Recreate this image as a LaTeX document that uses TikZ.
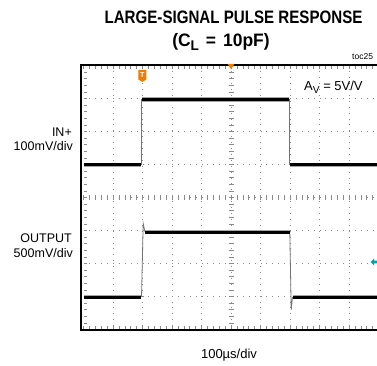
\documentclass[tikz,border=0pt]{standalone}
\usepackage{fontspec}
\setmainfont{Liberation Sans}
\newcommand\lowsub[1]{\raisebox{-0.38ex}{\scalebox{0.78}{#1}}}
\definecolor{scopeorange}{HTML}{F07D00}
\definecolor{scopecyan}{HTML}{00A6A6}
\definecolor{gridgray}{HTML}{8A8A8A}
\tikzset{
  lbl/.style={inner sep=0pt, font=\fontsize{12.5}{15}\selectfont},
  ttl/.style={inner sep=0pt, font=\bfseries\fontsize{18}{21}\selectfont},
  gridline/.style={gridgray, line width=0.7pt, dash pattern=on 0.8pt off 5.1pt},
  tick/.style={gridgray, line width=0.6pt},
  frame/.style={black, line width=2.6pt},
  tracefat/.style={black, line width=3pt},
  tracehalo/.style={black!35, line width=4.2pt},
  edge/.style={black!55, line width=0.8pt},
}
\begin{document}
\begin{tikzpicture}[x=1pt,y=-1pt]
\useasboundingbox (0,0) rectangle (377,366);
\begin{scope}
\clip (0,0) rectangle (377,366);
% grid
\def\xo{83.5}\def\dx{29.5}\def\yo{65.5}\def\dy{33}
\foreach \i in {1,...,9}{
  \draw[gridline] ({\xo+\i*\dx},\yo) -- ({\xo+\i*\dx},{\yo+8*\dy});
}
\foreach \j in {1,...,7}{
  \draw[gridline] (\xo,{\yo+\j*\dy}) -- ({\xo+10*\dx},{\yo+\j*\dy});
}
% minor ticks
\foreach \k in {0,...,50}{
  \draw[tick] ({\xo+\k*\dx/5},195) -- ({\xo+\k*\dx/5},200);
  \draw[tick] ({\xo+\k*\dx/5},\yo) -- ({\xo+\k*\dx/5},{\yo+3.5});
  \draw[tick] ({\xo+\k*\dx/5},{\yo+8*\dy-3.5}) -- ({\xo+\k*\dx/5},{\yo+8*\dy});
}
\foreach \k in {0,...,40}{
  \draw[tick] (228.5,{\yo+\k*\dy/5}) -- (233.5,{\yo+\k*\dy/5});
  \draw[tick] (\xo,{\yo+\k*\dy/5}) -- ({\xo+3.5},{\yo+\k*\dy/5});
}
% frame
\draw[frame] (385,65) -- (81,65) -- (81,330) -- (385,330);
% IN+ trace
\draw[edge] (141.5,165) -- (141.5,99.5);
\draw[edge] (289.5,99.5) -- (289.5,165);
\draw[tracehalo] (84,165) -- (141,165);
\draw[tracefat] (84,165) -- (141,165);
\draw[tracehalo] (142,99.5) -- (289,99.5);
\draw[tracefat] (142,99.5) -- (289,99.5);
\draw[tracehalo] (290,165) -- (380,165);
\draw[tracefat] (290,165) -- (380,165);
% OUTPUT trace
\draw[edge] (141.5,297) -- (143.2,223.5) -- (145,232);
\draw[edge] (289.8,232) -- (291.2,310) -- (292.5,297);
\draw[tracehalo] (84,297) -- (141,297);
\draw[tracefat] (84,297) -- (141,297);
\draw[tracehalo] (145,232) -- (289.5,232);
\draw[tracefat] (145,232) -- (289.5,232);
\draw[tracehalo] (292.5,297) -- (380,297);
\draw[tracefat] (292.5,297) -- (380,297);
% markers
\fill[scopeorange] (227.5,63.8) -- (234.5,63.8) -- (231,69.2) -- cycle;
\fill[scopeorange] (138.3,70) -- (146.3,70) -- (146.3,79.5) -- (142.3,82) -- (138.3,79.5) -- cycle;
\node[inner sep=0pt, text=white, font=\bfseries\fontsize{7}{8}\selectfont] (trig) at (142.3,75.3) {T};
\fill[scopecyan] (370.5,262) -- (374.2,258.3) -- (374.2,260.6) -- (377,260.6) -- (377,263.4) -- (374.2,263.4) -- (374.2,265.7) -- cycle;
\node[anchor=west, inner sep=0pt, font=\fontsize{8.5}{10}\selectfont] (toc) at (352,57) {toc25};
\end{scope}
% texts
\node[ttl] (title) at (233.5,17) {\scalebox{0.84}[1]{LARGE-SIGNAL PULSE RESPONSE}};
\node[ttl] (cap) at (221,42) {\scalebox{0.97}[1]{(C\lowsub{L}\hspace{0.12em} = \hspace{0.12em}10pF)}};
\node[lbl, anchor=west, font=\fontsize{13}{15}\selectfont] (gain) at (304,87) {A\lowsub{V} = 5V/V};
\node[lbl, anchor=east] (inp) at (72,132) {IN+};
\node[lbl, anchor=east] (inscale) at (73,146.5) {100mV/div};
\node[lbl, anchor=east] (outp) at (72,238.5) {OUTPUT};
\node[lbl, anchor=east] (outscale) at (73,253.5) {500mV/div};
\node[lbl, font=\fontsize{13}{15}\selectfont] (tscale) at (229,355.5) {100µs/div};
\end{tikzpicture}
\end{document}
